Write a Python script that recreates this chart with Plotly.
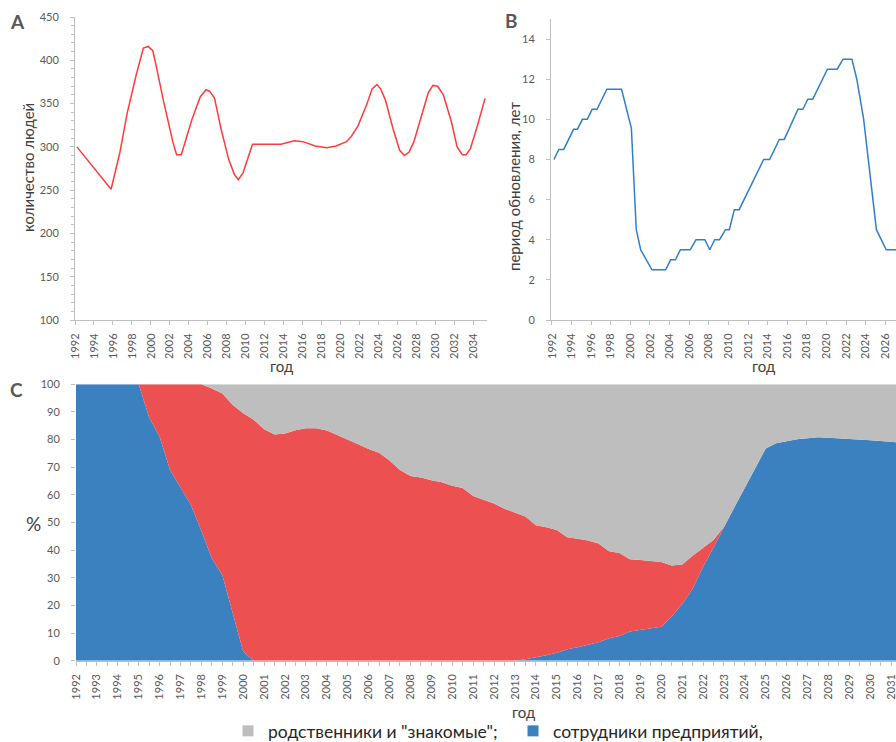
import plotly.graph_objects as go

# ---------------- Panel A: number of people ----------------
years_a = [1992.2, 1995.8, 1996.7, 1997.5, 1998.4, 1999.2, 1999.7, 2000.2, 2000.6, 2001.3,
           2002.3, 2002.7, 2003.2, 2003.6, 2004.3, 2005.2, 2005.8, 2006.2, 2006.7, 2007.4,
           2008.2, 2008.8, 2009.2, 2009.7, 2010.7, 2013.7, 2015.1, 2016.0, 2017.3, 2018.5,
           2019.5, 2020.6, 2021.1, 2021.8, 2022.7, 2023.3, 2023.8, 2024.2, 2024.7, 2025.5,
           2026.2, 2026.7, 2027.2, 2027.7, 2028.4, 2029.2, 2029.7, 2030.2, 2030.8, 2031.65,
           2032.25, 2032.8, 2033.2, 2033.65, 2034.35, 2035.2]
people = [300, 251, 292, 339, 381, 414, 416, 411, 391, 354,
          306, 291, 291, 306, 331, 358, 366, 364, 356, 320,
          285, 268, 262, 270, 303, 303, 307, 306, 301, 299,
          301, 306, 312, 324, 348, 367, 372, 367, 354, 321,
          296, 290, 294, 306, 331, 362, 371, 370, 360, 329,
          300, 291, 291, 298, 323, 356]

# ---------------- Panel B: renewal period ----------------
years_b = [1992.2, 1992.7, 1993.2, 1994.2, 1994.6, 1995.1, 1995.6, 1996.1, 1996.6, 1997.6,
           1999.1, 2000.1, 2000.6, 2001.05, 2002.2, 2003.6, 2004.1, 2004.6, 2005.1, 2006.1,
           2006.7, 2007.6, 2008.1, 2008.6, 2009.1, 2009.7, 2010.1, 2010.6, 2011.1, 2013.6,
           2014.2, 2015.2, 2015.7, 2017.1, 2017.6, 2018.1, 2018.6, 2020.1, 2021.1, 2021.7,
           2022.6, 2023.1, 2023.8, 2024.5, 2025.1, 2026.1, 2027.5]
period = [8.0, 8.5, 8.5, 9.5, 9.5, 10.0, 10.0, 10.5, 10.5, 11.5,
          11.5, 9.55, 4.5, 3.5, 2.5, 2.5, 3.0, 3.0, 3.5, 3.5,
          4.0, 4.0, 3.5, 4.0, 4.0, 4.5, 4.5, 5.5, 5.5, 8.0,
          8.0, 9.0, 9.0, 10.5, 10.5, 11.0, 11.0, 12.5, 12.5, 13.0,
          13.0, 12.0, 10.0, 7.0, 4.5, 3.5, 3.5]

# ---------------- Panel C: shares, % ----------------
years_c = [1992.0, 1992.5, 1993.0, 1993.5, 1994.0, 1994.5, 1995.0, 1995.5, 1996.0, 1996.5,
           1997.0, 1997.5, 1998.0, 1998.5, 1999.0, 1999.5, 2000.0, 2000.5, 2001.0, 2001.5,
           2002.0, 2002.5, 2003.0, 2003.5, 2004.0, 2004.5, 2005.0, 2005.5, 2006.0, 2006.5,
           2007.0, 2007.5, 2008.0, 2008.5, 2009.0, 2009.5, 2010.0, 2010.5, 2011.0, 2011.5,
           2012.0, 2012.5, 2013.0, 2013.5, 2014.0, 2014.5, 2015.0, 2015.5, 2016.0, 2016.5,
           2017.0, 2017.5, 2018.0, 2018.5, 2019.0, 2019.5, 2020.0, 2020.5, 2021.0, 2021.5,
           2022.0, 2022.5, 2023.0, 2023.5, 2024.0, 2024.5, 2025.0, 2025.5, 2026.0, 2026.5,
           2027.0, 2027.5, 2028.0, 2028.5, 2029.0, 2029.5, 2030.0, 2030.5, 2031.0, 2031.5]
employees = [100, 100, 100, 100, 100, 100, 100, 88, 81, 69,
             62.4, 56.3, 47, 37, 31, 17, 3.3, 0, 0, 0,
             0, 0, 0, 0, 0, 0, 0, 0, 0, 0,
             0, 0, 0, 0, 0, 0, 0, 0, 0, 0,
             0, 0, 0, 0.5, 1.2, 2, 2.9, 4.1, 4.9, 5.8,
             6.7, 8.1, 8.9, 10.6, 11.1, 11.6, 12.3, 16, 20.5, 26,
             34, 41, 48.5, 55.5, 62.6, 69.7, 76.8, 78.7, 79.5, 80.1,
             80.5, 80.8, 80.7, 80.5, 80.4, 80.2, 79.8, 79.5, 79.2, 78.9]
other = [0, 0, 0, 0, 0, 0, 0, 12, 19, 31,
         37.6, 43.7, 53, 61.5, 65.7, 75.5, 86.2, 87.2, 83.7, 81.8,
         82.2, 83.4, 84.1, 84.1, 83.3, 81.7, 80.1, 78.3, 76.6, 75.2,
         72.4, 69, 66.8, 66.3, 65.3, 64.6, 63.3, 62.5, 59.6, 58.2,
         56.9, 55, 53.6, 51.7, 47.8, 46.3, 44.4, 40.6, 39.2, 37.7,
         35.7, 31.5, 30.1, 26.1, 25.3, 24.5, 23.4, 18.4, 14.3, 12,
         6.7, 2.7, 0, 0, 0, 0, 0, 0, 0, 0,
         0, 0, 0, 0, 0, 0, 0, 0, 0, 0]
relatives = [0, 0, 0, 0, 0, 0, 0, 0, 0, 0,
             0, 0, 0, 1.5, 3.3, 7.5, 10.5, 12.8, 16.3, 18.2,
             17.8, 16.6, 15.9, 15.9, 16.7, 18.3, 19.9, 21.7, 23.4, 24.8,
             27.6, 31, 33.2, 33.7, 34.7, 35.4, 36.7, 37.5, 40.4, 41.8,
             43.1, 45, 46.4, 47.8, 51, 51.7, 52.7, 55.3, 55.9, 56.5,
             57.6, 60.4, 61, 63.3, 63.6, 63.9, 64.3, 65.6, 65.2, 62,
             59.3, 56.3, 51.5, 44.5, 37.4, 30.3, 23.2, 21.3, 20.5, 19.9,
             19.5, 19.2, 19.3, 19.5, 19.6, 19.8, 20.2, 20.5, 20.8, 21.1]

name_relatives = 'родственники и "знакомые";'
name_employees = 'сотрудники предприятий,'
name_other = 'другие'

RED_LINE = '#FF3B3B'
BLUE_LINE = '#2F7FCC'
C_BLUE = '#3B80BF'
C_RED = '#EC5050'
C_GRAY = '#BEBEBE'
AXIS = '#BFBFBF'
TICKF = dict(family='Lato', size=11, color='#595959')
TITLEF = dict(family='Lato', size=15, color='#404040')

W, H = 896, 742
def px(x):
    return x / W
def py(y):
    return 1 - y / H

fig = go.Figure()

fig.add_trace(go.Scatter(x=years_a, y=people, mode='lines', line=dict(color=RED_LINE, width=1.5),
                         xaxis='x', yaxis='y', showlegend=False))
fig.add_trace(go.Scatter(x=years_b, y=period, mode='lines', line=dict(color=BLUE_LINE, width=1.5),
                         xaxis='x2', yaxis='y2', showlegend=False))

fig.add_trace(go.Scatter(x=years_c, y=employees, mode='lines', stackgroup='c', line=dict(width=0, color=C_BLUE),
                         fillcolor=C_BLUE, xaxis='x3', yaxis='y3', showlegend=False, name=name_employees))
fig.add_trace(go.Scatter(x=years_c, y=other, mode='lines', stackgroup='c', line=dict(width=0, color=C_RED),
                         fillcolor=C_RED, xaxis='x3', yaxis='y3', showlegend=False, name=name_other))
fig.add_trace(go.Scatter(x=years_c, y=relatives, mode='lines', stackgroup='c', line=dict(width=0, color=C_GRAY),
                         fillcolor=C_GRAY, xaxis='x3', yaxis='y3', showlegend=False, name=name_relatives))

# legend entries
fig.add_trace(go.Scatter(x=[None], y=[None], mode='markers', name=name_relatives,
                         marker=dict(symbol='square', size=11, color=C_GRAY), xaxis='x3', yaxis='y3'))
fig.add_trace(go.Scatter(x=[None], y=[None], mode='markers', name=name_employees,
                         marker=dict(symbol='square', size=11, color=C_BLUE), xaxis='x3', yaxis='y3'))

common_x = dict(showgrid=False, zeroline=False, showline=True, linecolor=AXIS, linewidth=1,
                ticks='outside', ticklen=4, tickcolor=AXIS, tickangle=-90, tickfont=TICKF,
                ticklabelstandoff=4, automargin=False, ticklabeloverflow='allow')
common_y = dict(showgrid=False, zeroline=False, ticks='outside', ticklen=4, tickcolor=AXIS,
                tickfont=TICKF, ticklabelstandoff=9, automargin=False)

fig.update_layout(
    width=W, height=H, margin=dict(l=0, r=0, t=0, b=0, pad=0, autoexpand=False),
    paper_bgcolor='white', plot_bgcolor='white',
    font=dict(family='Lato'),
    xaxis=dict(domain=[px(75), px(487)], range=[1992, 2035.4], tick0=1992, dtick=2,
               anchor='y', **common_x),
    yaxis=dict(domain=[py(320), py(17)], range=[100, 450], dtick=50, anchor='x',
               showline=True, linecolor=AXIS,
               minor=dict(dtick=10, ticks='outside', ticklen=3, tickcolor=AXIS), **common_y),
    xaxis2=dict(domain=[px(551), 1.0], range=[1991.9, 2027.1], tick0=1992, dtick=2,
                anchor='y2', **common_x),
    yaxis2=dict(domain=[py(320), py(19)], range=[0, 15], tick0=0, dtick=2, anchor='x2',
                showline=True, linecolor=AXIS, **common_y),
    xaxis3=dict(domain=[px(76), 1.0], range=[1992, 2031.23], tick0=1992, dtick=1,
                anchor='y3', minor=dict(dtick=0.5, ticks='outside', ticklen=4, tickcolor=AXIS),
                **common_x),
    yaxis3=dict(domain=[py(660.7), py(384.3)], range=[0, 100], dtick=10, anchor='x3',
                showline=False, **common_y),
    legend=dict(orientation='h', x=px(228), y=py(731), xanchor='left', yanchor='middle',
                font=dict(family='Lato', size=17.5, color='#262626'),
                entrywidth=240, entrywidthmode='pixels', bgcolor='rgba(0,0,0,0)',
                traceorder='normal'),
)

annots = [
    dict(text='A', x=px(17), y=py(22), font=dict(family='Lato', size=19, color='#595959', weight='bold')),
    dict(text='B', x=px(511), y=py(21), font=dict(family='Lato', size=19, color='#595959', weight='bold')),
    dict(text='C', x=px(16), y=py(389), font=dict(family='Lato', size=19, color='#595959', weight='bold')),
    dict(text='количество людей', x=px(28), y=py(168), textangle=-90, font=TITLEF),
    dict(text='год', x=px(281), y=py(366), font=TITLEF),
    dict(text='период обновления, лет', x=px(514), y=py(187), textangle=-90, font=TITLEF),
    dict(text='год', x=px(763), y=py(366), font=TITLEF),
    dict(text='%', x=px(33), y=py(523), font=dict(family='Lato', size=19, color='#404040')),
    dict(text='год', x=px(523), y=py(712), font=TITLEF),
]
for a in annots:
    a.update(xref='paper', yref='paper', showarrow=False, xanchor='center', yanchor='middle')
fig.update_layout(annotations=annots)

fig.write_html('out.html', config={'displayModeBar': False},
               post_script="document.body.style.margin='0';document.body.style.padding='0';"
                           "document.documentElement.style.overflow='hidden';")
